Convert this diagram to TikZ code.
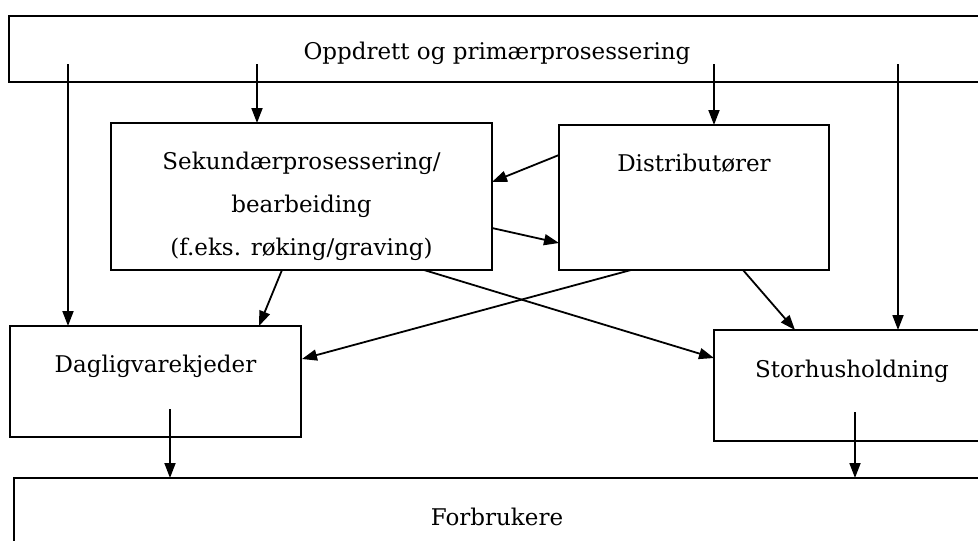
\documentclass[tikz,border=0pt]{standalone}
\usepackage{fontspec}
\setmainfont{DejaVu Serif}
\usetikzlibrary{arrows.meta}
\begin{document}
\begin{tikzpicture}[x=1pt,y=-1pt,
  box/.style={draw,line width=2pt,inner sep=0pt,outer sep=0pt,anchor=north west},
  lbl/.style={font=\fontsize{23}{43}\selectfont,align=center,inner sep=0pt},
  arr/.style={line width=1.8pt,-{Triangle[length=15pt,width=11pt]}}]
\useasboundingbox (0,0) rectangle (978,541);
\begin{scope}
\clip (0,0) rectangle (978,541);
% boxes
\node[box,minimum width=981pt,minimum height=66pt] (top) at (9,16) {};
\node[box,minimum width=381pt,minimum height=147pt] (sek) at (111,123) {};
\node[box,minimum width=270pt,minimum height=145pt] (dis) at (559,125) {};
\node[box,minimum width=291pt,minimum height=111pt] (dag) at (10,326) {};
\node[box,minimum width=276pt,minimum height=111pt] (sto) at (714,330) {};
\node[box,minimum width=976pt,minimum height=82pt] (for) at (14,478) {};
\end{scope}
% named anchors
\coordinate (t1) at (68,64);
\coordinate (t2) at (257,64);
\coordinate (t3) at (714,64);
\coordinate (t4) at (898,64);
\coordinate (sekT) at (257,123);
\coordinate (disT) at (714,125);
\coordinate (dagT) at (68,326);
\coordinate (stoT) at (898,330);
\coordinate (disL1) at (559,155);
\coordinate (sekR1) at (492,182);
\coordinate (sekR2) at (492,228);
\coordinate (disL2) at (559,243);
\coordinate (sekB1) at (282,270);
\coordinate (dagT2) at (259,326);
\coordinate (disB1) at (631,270);
\coordinate (dagR) at (302,359);
\coordinate (sekB2) at (424,270);
\coordinate (stoL) at (714,358);
\coordinate (disB2) at (743,270);
\coordinate (stoT2) at (795,330);
\coordinate (dagB) at (170,409);
\coordinate (forT1) at (170,478);
\coordinate (stoB) at (855,412);
\coordinate (forT2) at (855,478);
% texts
\node[lbl] (txtop) at (497,53) {Oppdrett og primærprosessering};
\node[lbl] (txsek) at (301.5,206) {Sekundærprosessering/\\bearbeiding\\(f.eks. røking/graving)};
\node[lbl] (txdis) at (694,163) {Distributører};
\node[lbl] (txdag) at (155.5,366) {Dagligvarekjeder};
\node[lbl] (txsto) at (852,371) {Storhusholdning};
\node[lbl] (txfor) at (497,517) {Forbrukere};
% arrows
\draw[arr] (t1) -- (dagT);
\draw[arr] (t2) -- (sekT);
\draw[arr] (t3) -- (disT);
\draw[arr] (t4) -- (stoT);
\draw[arr] (disL1) -- (sekR1);
\draw[arr] (sekR2) -- (disL2);
\draw[arr] (sekB1) -- (dagT2);
\draw[arr] (disB1) -- (dagR);
\draw[arr] (sekB2) -- (stoL);
\draw[arr] (disB2) -- (stoT2);
\draw[arr] (dagB) -- (forT1);
\draw[arr] (stoB) -- (forT2);
\end{tikzpicture}
\end{document}
